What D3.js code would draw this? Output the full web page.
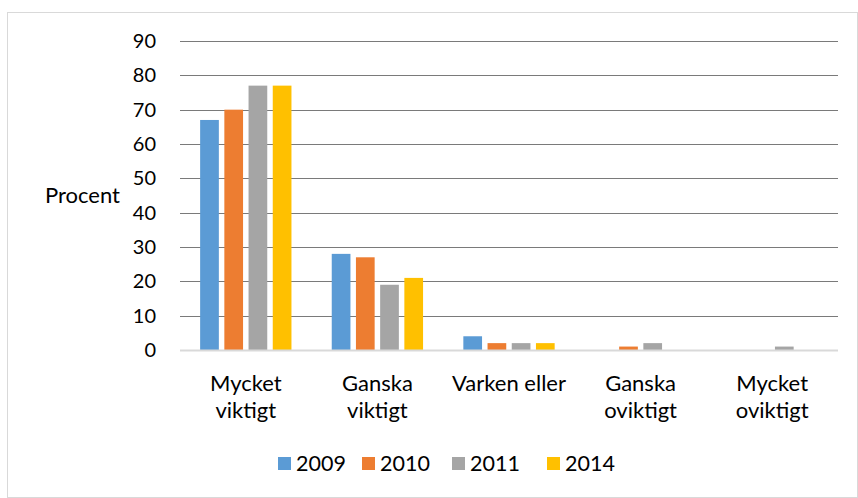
<!DOCTYPE html>
<html>
<head>
  <meta charset="utf-8">
  <title>Procent</title>
  <script src="https://d3js.org/d3.v7.min.js"></script>
  <style>
    body { margin: 0; background: #fff; font-family: Lato, "Open Sans", sans-serif; }
    .y-axis text, .x-label, .legend text, .y-title { fill: #000; }
    .x-label, .y-title { font-size: 22px; }
    .legend text { font-size: 21.5px; }
  </style>
</head>
<body>
  <div id="chart"></div>
  <script>
    // data
    const categories = [["Mycket", "viktigt"], ["Ganska", "viktigt"], ["Varken eller"], ["Ganska", "oviktigt"], ["Mycket", "oviktigt"]];
    const series = ["2009", "2010", "2011", "2014"];
    const colors = ["#5b9bd5", "#ed7d31", "#a5a5a5", "#ffc000"];
    const values2009 = [67, 28, 4, 0, 0];
    const values2010 = [70, 27, 2, 1, 0];
    const values2011 = [77, 19, 2, 2, 1];
    const values2014 = [77, 21, 2, 0, 0];
    const yTicks = [0, 10, 20, 30, 40, 50, 60, 70, 80, 90];

    const allValues = [values2009, values2010, values2011, values2014];
    const width = 858, height = 498;
    const margin = { top: 41, right: 20, bottom: 148, left: 180 };
    const plotW = width - margin.left - margin.right;
    const plotH = height - margin.top - margin.bottom;

    const svg = d3.select('#chart').append('svg')
      .attr('width', width)
      .attr('height', height);

    // chart border
    svg.append('rect')
      .attr('x', 7.5).attr('y', 12.5)
      .attr('width', width - 8).attr('height', height - 13)
      .attr('fill', 'none')
      .attr('stroke', '#d9d9d9');

    const g = svg.append('g')
      .attr('transform', `translate(${margin.left},${margin.top})`);

    const catIdx = categories.map((d, i) => i);
    const x0 = d3.scaleBand().domain(catIdx).range([0, plotW]).padding(0);
    const x1 = d3.scaleBand().domain(series).range([0, x0.bandwidth()])
      .paddingInner(0.227).paddingOuter(0.832);
    const y = d3.scaleLinear().domain([0, 90]).range([plotH, 0]);

    // gridlines
    g.append('g').attr('class', 'grid')
      .selectAll('line')
      .data(yTicks.filter(t => t > 0))
      .enter().append('line')
      .attr('x1', 0).attr('x2', plotW)
      .attr('y1', d => Math.round(y(d)) + 0.5)
      .attr('y2', d => Math.round(y(d)) + 0.5)
      .attr('stroke', '#7a7a7a')
      .attr('stroke-width', 1);

    // y axis labels
    const yAxis = d3.axisLeft(y).tickValues(yTicks).tickSize(0).tickPadding(24);
    const yG = g.append('g').attr('class', 'y-axis').call(yAxis);
    yG.select('.domain').remove();
    yG.selectAll('text').style('font-family', 'Lato, sans-serif').attr('font-size', 20);

    svg.append('text')
      .attr('class', 'y-title')
      .attr('x', 45).attr('y', margin.top + y(45))
      .attr('dy', '0.35em')
      .text('Procent');

    // bars
    series.forEach((s, si) => {
      g.append('g')
        .selectAll('rect')
        .data(allValues[si])
        .enter().append('rect')
        .attr('x', (d, i) => x0(i) + x1(s))
        .attr('y', d => y(d))
        .attr('width', x1.bandwidth())
        .attr('height', d => plotH - y(d))
        .attr('fill', colors[si]);
    });

    // baseline
    g.append('line')
      .attr('x1', 0).attr('x2', plotW)
      .attr('y1', plotH + 0.5).attr('y2', plotH + 0.5)
      .attr('stroke', '#d9d9d9')
      .attr('stroke-width', 2);

    // category labels
    const lab = g.append('g').selectAll('text')
      .data(categories)
      .enter().append('text')
      .attr('class', 'x-label')
      .attr('text-anchor', 'middle')
      .attr('x', (d, i) => x0(i) + x0.bandwidth() / 2)
      .attr('y', plotH + 41);
    lab.selectAll('tspan')
      .data(d => d)
      .enter().append('tspan')
      .attr('x', function () { return d3.select(this.parentNode).attr('x'); })
      .attr('dy', (d, i) => i === 0 ? 0 : 27)
      .text(d => d);

    // legend
    const legendX = [278, 362, 452, 547];
    const leg = svg.append('g').attr('class', 'legend')
      .selectAll('g')
      .data(series)
      .enter().append('g')
      .attr('transform', (d, i) => `translate(${legendX[i]},457)`);
    leg.append('rect')
      .attr('width', 13).attr('height', 13)
      .attr('fill', (d, i) => colors[i]);
    leg.append('text')
      .attr('x', 18).attr('y', 6.5)
      .attr('dy', '0.35em')
      .text(d => d);
  </script>
</body>
</html>
